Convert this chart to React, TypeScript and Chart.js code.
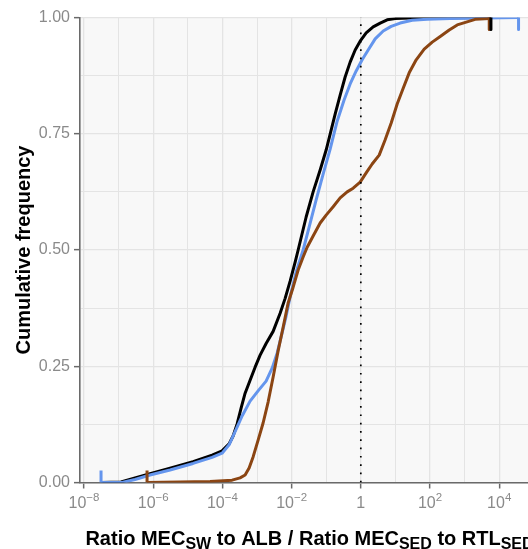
import React, { useEffect, useRef } from 'react';
import { Chart, registerables } from 'chart.js';

Chart.register(...registerables);

// x values stored as log10 exponents of the ratio; y = cumulative frequency
const blackLog = [-7.508, -6.93, -6.525, -6.091, -5.513, -4.848, -4.298, -4.009, -3.807, -3.691, -3.575, -3.46, -3.344, -3.2, -3.055, -2.91, -2.737, -2.534, -2.332, -2.187, -2.043, -1.898, -1.811, -1.58, -1.378, -1.175, -1.002, -0.886, -0.742, -0.597, -0.453, -0.308, -0.163, -0.019, 0.155, 0.357, 0.56, 0.762, 0.994, 1.427, 3.761];
const blackCum = [0, 0.001, 0.0097, 0.019, 0.031, 0.045, 0.059, 0.068, 0.083, 0.1, 0.126, 0.16, 0.192, 0.22, 0.248, 0.274, 0.299, 0.325, 0.364, 0.396, 0.433, 0.474, 0.5, 0.571, 0.625, 0.672, 0.715, 0.749, 0.792, 0.833, 0.872, 0.904, 0.93, 0.949, 0.967, 0.98, 0.988, 0.995, 0.9976, 0.999, 1];

const blueLog = [-7.508, -6.901, -6.525, -6.091, -5.513, -4.848, -4.298, -4.009, -3.807, -3.691, -3.575, -3.431, -3.2, -2.969, -2.737, -2.563, -2.419, -2.274, -2.158, -2.043, -1.869, -1.667, -1.494, -1.291, -1.089, -0.886, -0.684, -0.481, -0.308, -0.134, 0.039, 0.213, 0.415, 0.647, 0.878, 1.138, 1.485, 1.918, 2.584, 4.559];
const blueCum = [0, 0, 0.0065, 0.016, 0.027, 0.041, 0.054, 0.063, 0.081, 0.1, 0.119, 0.143, 0.175, 0.197, 0.218, 0.246, 0.278, 0.322, 0.358, 0.399, 0.453, 0.5, 0.549, 0.608, 0.663, 0.717, 0.777, 0.823, 0.857, 0.885, 0.909, 0.93, 0.954, 0.971, 0.981, 0.988, 0.994, 0.996, 0.998, 1];

const brownLog = [-6.178, -5.224, -4.356, -3.72, -3.489, -3.344, -3.228, -3.113, -2.968, -2.824, -2.679, -2.534, -2.39, -2.245, -2.101, -1.956, -1.811, -1.667, -1.551, -1.378, -1.175, -1.002, -0.799, -0.597, -0.394, -0.221, -0.019, 0.155, 0.328, 0.531, 0.704, 0.878, 1.051, 1.225, 1.398, 1.601, 1.832, 2.064, 2.295, 2.555, 2.787, 3.047, 3.307, 3.712, 3.712];
const brownCum = [0, 0.001, 0.002, 0.005, 0.01, 0.016, 0.031, 0.055, 0.091, 0.128, 0.173, 0.227, 0.283, 0.334, 0.386, 0.42, 0.457, 0.485, 0.506, 0.53, 0.558, 0.575, 0.593, 0.612, 0.625, 0.633, 0.646, 0.666, 0.685, 0.704, 0.737, 0.773, 0.814, 0.848, 0.881, 0.909, 0.932, 0.947, 0.959, 0.973, 0.984, 0.99, 0.996, 0.998, 1];

// extreme-value marks (min / max of each series)
const blueMinLog = -7.508;
const brownMinLog = -6.178;
const blackMaxLog = 3.761;
const brownMaxLog = 3.712;
const blueMaxLog = 4.559;
const markLength = 0.026;

const xGridExp = [-8, -7, -6, -5, -4, -3, -2, -1, 0, 1, 2, 3, 4, 5];
const xLabelExp = [-8, -6, -4, -2, 0, 2, 4];
const xMinExp = -8.116;
const xMaxExp = 5.15;
const yTickStep = 0.125;

const BLACK = '#000000';
const BLUE = '#6495ED';
const BROWN = '#8B4513';
const FONT = "'Liberation Sans', Arial, Helvetica, sans-serif";
const TICK_GRAY = '#8A8A8A';
const AXIS_GRAY = '#6A6A6A';

const pts = (logs: number[], ys: number[]) => logs.map((l, i) => ({ x: Math.pow(10, l), y: ys[i] }));

const isMajorX = (v: number) => {
  const e = Math.round(Math.log10(v));
  return e % 2 === 0;
};
const isMajorY = (v: number) => Math.abs(v / 0.25 - Math.round(v / 0.25)) < 1e-9;

const decor = {
  id: 'decor',
  beforeDraw(chart: any) {
    const { ctx, chartArea: a } = chart;
    ctx.save();
    ctx.fillStyle = '#F8F8F8';
    ctx.fillRect(a.left, a.top, a.right - a.left, a.bottom - a.top);
    ctx.restore();
  },
  afterDraw(chart: any) {
    const { ctx, chartArea: a } = chart;
    const xs = chart.scales.x;
    ctx.save();
    // x tick labels with superscripts
    ctx.fillStyle = TICK_GRAY;
    ctx.textBaseline = 'alphabetic';
    ctx.textAlign = 'left';
    const base = 508;
    for (const e of xLabelExp) {
      const px = xs.getPixelForValue(Math.pow(10, e));
      if (e === 0) {
        ctx.font = `16px ${FONT}`;
        const w = ctx.measureText('1').width;
        ctx.fillText('1', px - w / 2, base);
        continue;
      }
      const expStr = e < 0 ? `\u2212${Math.abs(e)}` : `${e}`;
      ctx.font = `16px ${FONT}`;
      const w1 = ctx.measureText('10').width;
      ctx.font = `11.5px ${FONT}`;
      const w2 = ctx.measureText(expStr).width;
      const start = px - (w1 + w2) / 2;
      ctx.font = `16px ${FONT}`;
      ctx.fillText('10', start, base);
      ctx.font = `11.5px ${FONT}`;
      ctx.fillText(expStr, start + w1, base - 7);
    }

    // x axis title with subscripts
    const parts: [string, boolean][] = [
      ['Ratio MEC', false], ['SW', true], [' to ALB / Ratio MEC', false], ['SED', true], [' to RTL', false], ['SED', true],
    ];
    const mainFont = `bold 20px ${FONT}`;
    const subFont = `bold 16px ${FONT}`;
    let total = 0;
    for (const [t, sub] of parts) {
      ctx.font = sub ? subFont : mainFont;
      total += ctx.measureText(t).width;
    }
    let x = (a.left + a.right) / 2 - total / 2;
    ctx.fillStyle = '#000000';
    for (const [t, sub] of parts) {
      ctx.font = sub ? subFont : mainFont;
      ctx.fillText(t, x, sub ? 549 : 545);
      x += ctx.measureText(t).width;
    }

    // y axis title
    ctx.translate(30, (a.top + a.bottom) / 2);
    ctx.rotate(-Math.PI / 2);
    ctx.font = mainFont;
    ctx.textAlign = 'center';
    ctx.fillText('Cumulative frequency', 0, 0);
    ctx.restore();
  },
};

export default function App() {
  const ref = useRef<HTMLCanvasElement>(null);
  useEffect(() => {
    if (!ref.current) return;
    const line = (data: any[], color: string, width = 3, extra: any = {}) => ({
      data,
      borderColor: color,
      backgroundColor: color,
      borderWidth: width,
      showLine: true,
      pointRadius: 0,
      pointHoverRadius: 0,
      tension: 0,
      fill: false,
      borderJoinStyle: 'round',
      ...extra,
    });
    const chart = new Chart(ref.current, {
      type: 'scatter',
      data: {
        datasets: [
          line([{ x: 1, y: 0 }, { x: 1, y: 1 }], BLACK, 1.7, { borderDash: [1.7, 6.6], borderJoinStyle: 'miter' }),
          line(pts([blackMaxLog, blackMaxLog], [1, 1 - markLength]), BLACK, 3),
          line(pts([brownMaxLog, brownMaxLog], [1, 1 - markLength]), BROWN, 3),
          line(pts([blueMaxLog, blueMaxLog], [1, 1 - markLength]), BLUE, 3),
          line(pts([brownMinLog, brownMinLog], [0, markLength]), BROWN, 3),
          line(pts([blueMinLog, blueMinLog], [0, markLength]), BLUE, 3),
          line(pts(brownLog, brownCum), BROWN, 3),
          line(pts(blueLog, blueCum), BLUE, 3),
          line(pts(blackLog, blackCum), BLACK, 3),
        ],
      },
      options: {
        animation: false,
        responsive: false,
        events: [],
        layout: { padding: { top: 17.5, right: 21, left: 0, bottom: 0 } },
        plugins: { legend: { display: false }, tooltip: { enabled: false } },
        scales: {
          x: {
            type: 'logarithmic',
            min: Math.pow(10, xMinExp),
            max: Math.pow(10, xMaxExp),
            bounds: 'data',
            afterBuildTicks: (scale: any) => {
              scale.ticks = xGridExp.map((e) => ({ value: Math.pow(10, e) }));
            },
            afterFit: (scale: any) => {
              scale.height = 66.5;
            },
            ticks: { display: false },
            grid: {
              color: '#E4E4E4',
              lineWidth: (c: any) => (c.tick && isMajorX(c.tick.value) ? 1.3 : 1),
              drawTicks: true,
              tickLength: 6,
              tickWidth: 1.5,
              tickColor: (c: any) => (c.tick && isMajorX(c.tick.value) ? AXIS_GRAY : 'rgba(0,0,0,0)'),
            },
            border: { display: true, color: AXIS_GRAY, width: 1.6 },
          },
          y: {
            type: 'linear',
            min: 0,
            max: 1,
            afterFit: (scale: any) => {
              scale.width = 80;
            },
            ticks: {
              stepSize: yTickStep,
              autoSkip: false,
              padding: 4,
              color: TICK_GRAY,
              font: { family: FONT, size: 16 },
              callback: (v: any) => (isMajorY(Number(v)) ? Number(v).toFixed(2) : ''),
            },
            grid: {
              color: '#E4E4E4',
              lineWidth: (c: any) => (c.tick && isMajorY(c.tick.value) ? 1.3 : 1),
              drawTicks: true,
              tickLength: 6,
              tickWidth: 1.5,
              tickColor: (c: any) => (c.tick && isMajorY(c.tick.value) ? AXIS_GRAY : 'rgba(0,0,0,0)'),
            },
            border: { display: true, color: AXIS_GRAY, width: 1.6 },
          },
        },
      },
      plugins: [decor],
    } as any);
    return () => chart.destroy();
  }, []);

  return (
    <div style={{ position: 'fixed', left: 0, top: 0, width: 528, height: 549, overflow: 'hidden', background: '#fff' }}>
      <canvas ref={ref} width={560} height={549} style={{ display: 'block', width: 560, height: 549 }} />
    </div>
  );
}
